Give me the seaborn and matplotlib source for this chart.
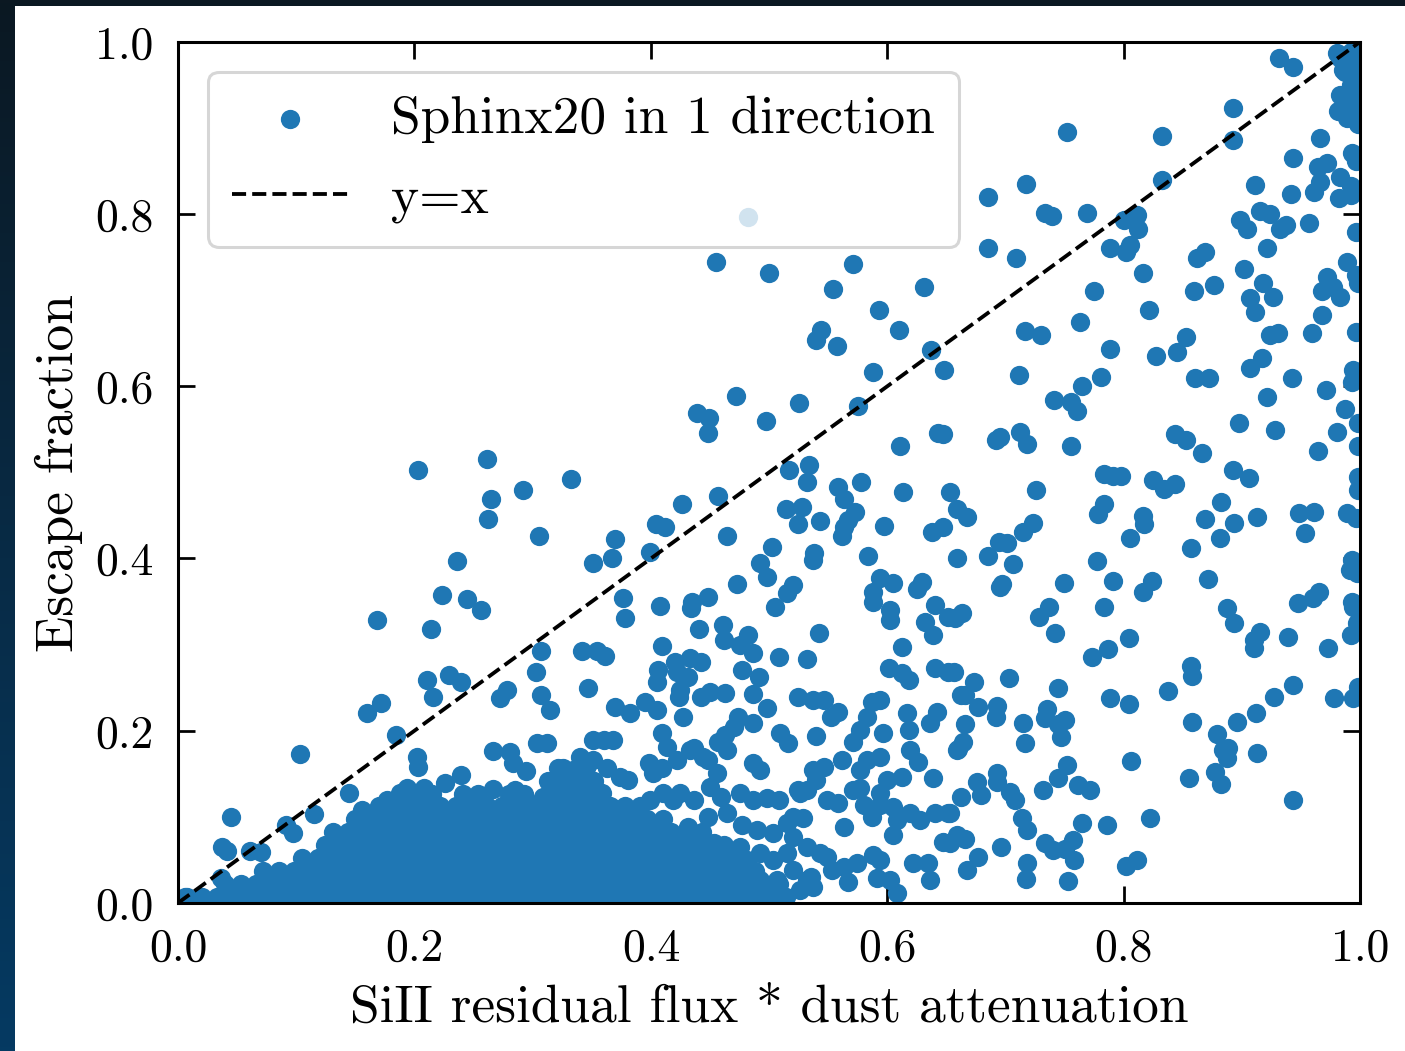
import matplotlib
matplotlib.use("Agg")
import matplotlib.pyplot as plt
import seaborn as sns
import numpy as np
import pandas as pd
from matplotlib.patches import Rectangle
from matplotlib.colors import LinearSegmentedColormap

# ---------------- data ----------------
# points above / near the diagonal on the left side
upper_left = [
    (0.203, 0.503), (0.261, 0.516), (0.265, 0.469), (0.262, 0.446), (0.292, 0.479), (0.305, 0.426),
    (0.236, 0.397), (0.332, 0.492), (0.223, 0.358), (0.244, 0.353), (0.256, 0.340), (0.168, 0.328),
    (0.214, 0.318), (0.307, 0.293), (0.303, 0.268), (0.211, 0.259), (0.229, 0.265), (0.239, 0.257),
    (0.216, 0.239), (0.272, 0.238), (0.278, 0.247), (0.307, 0.242), (0.315, 0.224), (0.160, 0.220),
    (0.172, 0.232), (0.184, 0.195), (0.103, 0.173), (0.202, 0.170), (0.203, 0.158), (0.266, 0.177),
    (0.281, 0.175), (0.304, 0.186), (0.312, 0.186), (0.321, 0.157), (0.283, 0.163), (0.294, 0.153),
    (0.045, 0.100), (0.037, 0.065), (0.041, 0.060), (0.061, 0.060), (0.070, 0.059), (0.036, 0.029),
    (0.091, 0.091), (0.097, 0.081), (0.115, 0.103), (0.145, 0.128), (0.226, 0.139), (0.239, 0.149),
    (0.208, 0.134), (0.194, 0.134), (0.177, 0.120), (0.188, 0.128), (0.156, 0.108), (0.266, 0.132),
    (0.285, 0.131), (0.295, 0.116), (0.309, 0.123), (0.006, 0.007), (0.151, 0.093), (0.162, 0.081),
]

# middle of the plot, high escape fractions
middle_high = [
    (0.455, 0.744), (0.500, 0.732), (0.571, 0.742), (0.554, 0.713), (0.631, 0.715), (0.593, 0.689),
    (0.610, 0.665), (0.544, 0.665), (0.540, 0.654), (0.557, 0.647), (0.637, 0.642), (0.648, 0.619),
    (0.588, 0.617), (0.575, 0.577), (0.472, 0.589), (0.525, 0.581), (0.439, 0.569), (0.449, 0.563),
    (0.448, 0.546), (0.497, 0.560), (0.643, 0.546), (0.647, 0.545), (0.611, 0.530), (0.517, 0.503),
    (0.534, 0.508), (0.532, 0.489), (0.558, 0.483), (0.563, 0.469), (0.578, 0.489), (0.613, 0.477),
    (0.653, 0.477), (0.659, 0.458), (0.514, 0.458), (0.528, 0.460), (0.524, 0.440), (0.543, 0.444),
    (0.573, 0.454), (0.567, 0.445), (0.563, 0.437), (0.562, 0.426), (0.597, 0.438), (0.638, 0.431),
    (0.647, 0.437), (0.426, 0.463), (0.457, 0.472), (0.404, 0.440), (0.412, 0.437), (0.370, 0.423),
    (0.351, 0.395), (0.367, 0.400), (0.399, 0.408), (0.464, 0.426), (0.502, 0.413), (0.538, 0.406),
    (0.537, 0.398), (0.492, 0.395), (0.584, 0.403), (0.659, 0.401), (0.482, 0.797),
]

# right-hand side of the plot
right_side = [
    (0.931, 0.981), (0.943, 0.971), (0.892, 0.923), (0.892, 0.886), (0.752, 0.895), (0.832, 0.890),
    (0.832, 0.840), (0.717, 0.835), (0.685, 0.820), (0.733, 0.801), (0.739, 0.798), (0.769, 0.801),
    (0.800, 0.793), (0.811, 0.799), (0.812, 0.783), (0.685, 0.761), (0.709, 0.749), (0.788, 0.761),
    (0.805, 0.764), (0.802, 0.756), (0.869, 0.756), (0.862, 0.749), (0.921, 0.761), (0.966, 0.888),
    (0.943, 0.865), (0.993, 0.871), (0.996, 0.861), (0.964, 0.854), (0.972, 0.859), (0.966, 0.837),
    (0.961, 0.825), (0.983, 0.843), (0.992, 0.832), (0.982, 0.818), (0.992, 0.822), (0.911, 0.834),
    (0.941, 0.823), (0.898, 0.793), (0.904, 0.782), (0.915, 0.803), (0.924, 0.800), (0.937, 0.787),
    (0.932, 0.783), (0.957, 0.790), (0.996, 0.779),
    (0.902, 0.736), (0.859, 0.710), (0.876, 0.717), (0.918, 0.720), (0.926, 0.704), (0.907, 0.703),
    (0.911, 0.686), (0.989, 0.744), (0.996, 0.729), (0.998, 0.720), (0.972, 0.727), (0.968, 0.710),
    (0.977, 0.715), (0.983, 0.704), (0.968, 0.683), (0.959, 0.662), (0.996, 0.663), (0.924, 0.660),
    (0.930, 0.662), (0.853, 0.657), (0.845, 0.640), (0.917, 0.633), (0.907, 0.621), (0.860, 0.609),
    (0.872, 0.610), (0.942, 0.609), (0.994, 0.619), (0.993, 0.605), (0.971, 0.596), (0.921, 0.587),
    (0.987, 0.573), (0.897, 0.557), (0.928, 0.549), (0.980, 0.547), (0.998, 0.557), (0.998, 0.530),
    (0.843, 0.544), (0.853, 0.538), (0.866, 0.523), (0.964, 0.525), (0.892, 0.503),
    (0.816, 0.732), (0.775, 0.710), (0.821, 0.689), (0.716, 0.664), (0.730, 0.659), (0.763, 0.674),
    (0.788, 0.643), (0.827, 0.635), (0.711, 0.613), (0.781, 0.611), (0.765, 0.600), (0.741, 0.584),
    (0.755, 0.582), (0.760, 0.571), (0.692, 0.538), (0.695, 0.541), (0.712, 0.547), (0.718, 0.533),
    (0.755, 0.531),
    (0.783, 0.498), (0.791, 0.496), (0.798, 0.496), (0.825, 0.491), (0.834, 0.481), (0.843, 0.487),
    (0.906, 0.494), (0.998, 0.495), (0.998, 0.480), (0.726, 0.479), (0.667, 0.448), (0.783, 0.463),
    (0.778, 0.452), (0.816, 0.449), (0.817, 0.440), (0.805, 0.424), (0.857, 0.412), (0.882, 0.465),
    (0.869, 0.446), (0.881, 0.424), (0.893, 0.441), (0.913, 0.448), (0.948, 0.453), (0.961, 0.454),
    (0.953, 0.430), (0.989, 0.453), (0.996, 0.447), (0.715, 0.431), (0.723, 0.441), (0.694, 0.419),
    (0.701, 0.418), (0.685, 0.403), (0.706, 0.393), (0.777, 0.397),
    (0.695, 0.367), (0.697, 0.370), (0.749, 0.372), (0.791, 0.374), (0.816, 0.361), (0.824, 0.374),
    (0.871, 0.376), (0.947, 0.348), (0.960, 0.354), (0.965, 0.361), (0.657, 0.331), (0.663, 0.337),
    (0.728, 0.332), (0.737, 0.344), (0.742, 0.314), (0.783, 0.344), (0.887, 0.343), (0.893, 0.325),
    (0.915, 0.315), (0.910, 0.305), (0.910, 0.296), (0.939, 0.309), (0.973, 0.296), (0.993, 0.398),
    (0.991, 0.387), (0.997, 0.383), (0.993, 0.350), (0.994, 0.344), (0.997, 0.325), (0.992, 0.311),
    (0.773, 0.286), (0.787, 0.295), (0.804, 0.308), (0.656, 0.268), (0.673, 0.257), (0.666, 0.242),
    (0.677, 0.228), (0.703, 0.261), (0.693, 0.229), (0.692, 0.216), (0.666, 0.208), (0.715, 0.209),
    (0.716, 0.186), (0.744, 0.250), (0.735, 0.225), (0.733, 0.215), (0.750, 0.213), (0.747, 0.193),
    (0.744, 0.208), (0.664, 0.187), (0.660, 0.179), (0.788, 0.238), (0.804, 0.231), (0.837, 0.246),
    (0.857, 0.275), (0.858, 0.264), (0.858, 0.210), (0.879, 0.196), (0.896, 0.210), (0.912, 0.220),
    (0.927, 0.239), (0.943, 0.253), (0.978, 0.238), (0.994, 0.238), (0.998, 0.251),
    (0.806, 0.165), (0.884, 0.178), (0.888, 0.180), (0.887, 0.168), (0.913, 0.174), (0.855, 0.145),
    (0.877, 0.152), (0.882, 0.138), (0.943, 0.120), (0.676, 0.141), (0.679, 0.125), (0.693, 0.151),
    (0.693, 0.141), (0.662, 0.123), (0.653, 0.105), (0.704, 0.129), (0.708, 0.120), (0.714, 0.099),
    (0.718, 0.085), (0.732, 0.131), (0.744, 0.145), (0.752, 0.160), (0.761, 0.137), (0.771, 0.131),
    (0.765, 0.093), (0.786, 0.091), (0.822, 0.099), (0.666, 0.074), (0.653, 0.070), (0.696, 0.065),
    (0.733, 0.070), (0.740, 0.062), (0.750, 0.063), (0.757, 0.073), (0.758, 0.050), (0.677, 0.053),
    (0.667, 0.038), (0.718, 0.046), (0.717, 0.028), (0.753, 0.026), (0.802, 0.043), (0.811, 0.050),
]

# pile of points in the top-right corner
corner_pile = [
    (0.998, 0.996), (0.992, 0.988), (0.983, 0.981), (0.996, 0.977), (0.987, 0.965), (0.998, 0.958),
    (0.992, 0.950), (0.983, 0.938), (0.996, 0.935), (0.993, 0.923), (0.981, 0.919), (0.989, 0.912),
    (0.998, 0.904), (0.980, 0.987), (0.985, 0.967), (0.993, 0.941), (0.990, 0.915),
]

# middle band, low to moderate escape fractions
middle_low = [
    (0.376, 0.354), (0.378, 0.331), (0.408, 0.345), (0.435, 0.350), (0.434, 0.343), (0.448, 0.355),
    (0.473, 0.370), (0.498, 0.379), (0.520, 0.369), (0.515, 0.360), (0.505, 0.344), (0.594, 0.377),
    (0.605, 0.372), (0.588, 0.361), (0.588, 0.350), (0.602, 0.340), (0.602, 0.329), (0.629, 0.373),
    (0.625, 0.364), (0.640, 0.346), (0.651, 0.332), (0.632, 0.326), (0.639, 0.311), (0.441, 0.318),
    (0.461, 0.323), (0.462, 0.305), (0.482, 0.311), (0.475, 0.300), (0.486, 0.290), (0.409, 0.298),
    (0.342, 0.292), (0.354, 0.292), (0.361, 0.287), (0.508, 0.286), (0.532, 0.283), (0.542, 0.314),
    (0.612, 0.297), (0.601, 0.273), (0.612, 0.267), (0.618, 0.259), (0.640, 0.273), (0.651, 0.268),
    (0.420, 0.280), (0.433, 0.285), (0.442, 0.280), (0.406, 0.271), (0.405, 0.256), (0.422, 0.268),
    (0.431, 0.262), (0.477, 0.271), (0.491, 0.262), (0.347, 0.250), (0.425, 0.247), (0.424, 0.239),
    (0.442, 0.239), (0.450, 0.245), (0.463, 0.244), (0.486, 0.243), (0.524, 0.239), (0.537, 0.236),
    (0.546, 0.236), (0.552, 0.216), (0.558, 0.222), (0.370, 0.228), (0.382, 0.220), (0.395, 0.233),
    (0.405, 0.224), (0.427, 0.216), (0.474, 0.216), (0.470, 0.204), (0.486, 0.209), (0.498, 0.226),
    (0.509, 0.197), (0.516, 0.186), (0.540, 0.194), (0.587, 0.233), (0.594, 0.236), (0.583, 0.216),
    (0.617, 0.221), (0.618, 0.201), (0.642, 0.222), (0.636, 0.209), (0.662, 0.242),
    (0.351, 0.189), (0.360, 0.189), (0.368, 0.189), (0.409, 0.197), (0.414, 0.181), (0.436, 0.180),
    (0.444, 0.170), (0.463, 0.195), (0.457, 0.187), (0.464, 0.178), (0.571, 0.187), (0.577, 0.201),
    (0.596, 0.197), (0.594, 0.170), (0.583, 0.166), (0.577, 0.154), (0.619, 0.178), (0.626, 0.164),
    (0.659, 0.178), (0.562, 0.166), (0.639, 0.145), (0.600, 0.143), (0.612, 0.146), (0.594, 0.128),
    (0.486, 0.163), (0.492, 0.154), (0.537, 0.154), (0.546, 0.158), (0.540, 0.143), (0.532, 0.131),
    (0.524, 0.131), (0.571, 0.131), (0.577, 0.134), (0.580, 0.114), (0.587, 0.100), (0.594, 0.114),
    (0.605, 0.111), (0.608, 0.096), (0.619, 0.105), (0.628, 0.096), (0.640, 0.105), (0.651, 0.105),
    (0.563, 0.088), (0.605, 0.079), (0.659, 0.079), (0.647, 0.071), (0.515, 0.093), (0.529, 0.099),
    (0.549, 0.120), (0.558, 0.116),
    (0.634, 0.046), (0.622, 0.046), (0.636, 0.027), (0.574, 0.046), (0.588, 0.056), (0.594, 0.050),
    (0.591, 0.029), (0.602, 0.027), (0.608, 0.012), (0.549, 0.053), (0.553, 0.038), (0.563, 0.042),
    (0.567, 0.024), (0.535, 0.030), (0.537, 0.019), (0.526, 0.015),
]

# upper edge of the dense cloud
dense_edge = [
    (0.340, 0.170), (0.351, 0.166), (0.363, 0.157), (0.334, 0.154), (0.381, 0.143), (0.374, 0.146),
    (0.332, 0.128), (0.346, 0.120), (0.359, 0.128), (0.368, 0.110), (0.354, 0.100), (0.398, 0.163),
    (0.402, 0.151), (0.409, 0.157), (0.422, 0.166), (0.433, 0.178), (0.448, 0.166), (0.456, 0.151),
    (0.399, 0.120), (0.410, 0.128), (0.419, 0.120), (0.425, 0.128), (0.436, 0.120), (0.450, 0.135),
    (0.459, 0.123), (0.464, 0.105), (0.448, 0.100), (0.475, 0.128), (0.486, 0.120), (0.498, 0.122),
    (0.508, 0.120), (0.477, 0.091), (0.490, 0.085), (0.503, 0.081), (0.520, 0.077), (0.532, 0.065),
    (0.543, 0.058), (0.526, 0.128), (0.520, 0.100), (0.431, 0.088), (0.439, 0.077), (0.453, 0.070),
    (0.464, 0.062), (0.475, 0.065), (0.481, 0.050), (0.492, 0.058), (0.503, 0.050), (0.515, 0.058),
    (0.520, 0.038), (0.507, 0.027), (0.492, 0.027), (0.532, 0.027),
]

# dense cloud at low escape fraction: one list of flux values per escape-fraction level
core_levels = [0.007, 0.022, 0.037, 0.052, 0.067, 0.082, 0.097, 0.112, 0.127, 0.142, 0.157]
core_r1 = [0.008, 0.020, 0.033, 0.046, 0.059, 0.072, 0.085, 0.098, 0.111, 0.124, 0.137, 0.150, 0.163,
           0.176, 0.189, 0.202, 0.215, 0.228, 0.241, 0.254, 0.267, 0.280, 0.293, 0.306, 0.319, 0.332,
           0.345, 0.358, 0.371, 0.384, 0.397, 0.410, 0.423, 0.436, 0.449, 0.462, 0.475, 0.488, 0.501, 0.514]
core_r2 = [0.040, 0.053, 0.066, 0.079, 0.092, 0.105, 0.118, 0.131, 0.144, 0.157, 0.170, 0.183, 0.196,
           0.209, 0.222, 0.235, 0.248, 0.261, 0.274, 0.287, 0.300, 0.313, 0.326, 0.339, 0.352, 0.365,
           0.378, 0.391, 0.404, 0.417, 0.430, 0.443, 0.456, 0.469, 0.482, 0.495, 0.508]
core_r3 = [0.072, 0.085, 0.098, 0.111, 0.124, 0.137, 0.150, 0.163, 0.176, 0.189, 0.202, 0.215, 0.228,
           0.241, 0.254, 0.267, 0.280, 0.293, 0.306, 0.319, 0.332, 0.345, 0.358, 0.371, 0.384, 0.397,
           0.410, 0.423, 0.436, 0.449, 0.462, 0.475, 0.488]
core_r4 = [0.105, 0.118, 0.131, 0.144, 0.157, 0.170, 0.183, 0.196, 0.209, 0.222, 0.235, 0.248, 0.261,
           0.274, 0.287, 0.300, 0.313, 0.326, 0.339, 0.352, 0.365, 0.378, 0.391, 0.404, 0.417, 0.430,
           0.443, 0.456, 0.469]
core_r5 = [0.124, 0.137, 0.150, 0.163, 0.176, 0.189, 0.202, 0.215, 0.228, 0.241, 0.254, 0.267, 0.280,
           0.293, 0.306, 0.319, 0.332, 0.345, 0.358, 0.371, 0.384, 0.397, 0.410, 0.423, 0.436, 0.449, 0.462]
core_r6 = [0.131, 0.144, 0.157, 0.170, 0.183, 0.196, 0.209, 0.222, 0.235, 0.248, 0.261, 0.274, 0.287,
           0.300, 0.313, 0.326, 0.339, 0.352, 0.365, 0.378, 0.391, 0.404, 0.417, 0.430, 0.443]
core_r7 = [0.150, 0.163, 0.176, 0.189, 0.202, 0.215, 0.228, 0.241, 0.254, 0.267, 0.280, 0.293, 0.306,
           0.319, 0.332, 0.345, 0.358, 0.371, 0.384, 0.397, 0.410]
core_r8 = [0.170, 0.183, 0.196, 0.209, 0.222, 0.235, 0.248, 0.261, 0.274, 0.287, 0.300, 0.313, 0.326,
           0.339, 0.352, 0.365, 0.378, 0.391]
core_r9 = [0.202, 0.215, 0.241, 0.254, 0.280, 0.293, 0.319, 0.332, 0.345, 0.358]
core_r10 = [0.313, 0.326, 0.339, 0.352]
core_r11 = [0.326, 0.345]
core_rows = [core_r1, core_r2, core_r3, core_r4, core_r5, core_r6, core_r7, core_r8, core_r9,
             core_r10, core_r11]

xticks = [0.0, 0.2, 0.4, 0.6, 0.8, 1.0]
yticks = [0.0, 0.2, 0.4, 0.6, 0.8, 1.0]
tick_labels = ["0.0", "0.2", "0.4", "0.6", "0.8", "1.0"]
identity = [0.0, 1.0]

# ---------------- assemble ----------------
pts = upper_left + middle_high + right_side + corner_pile + middle_low + dense_edge
for lvl, row in zip(core_levels, core_rows):
    pts = pts + [(xv, lvl) for xv in row]
df = pd.DataFrame(pts, columns=["flux", "fesc"])

plt.rcParams.update({
    "font.family": "cmr10",
    "mathtext.fontset": "cm",
    "axes.formatter.use_mathtext": True,
    "axes.unicode_minus": False,
})

W, H, DPI = 1405, 1051, 219.5
fig = plt.figure(figsize=((W + 0.3) / DPI, (H + 0.3) / DPI), dpi=DPI)

# dark presentation background with white card
bg = fig.add_axes([0, 0, 1, 1], zorder=-10)
grad = np.linspace(0, 1, 256).reshape(-1, 1)
cmap = LinearSegmentedColormap.from_list("bg", ["#0b1822", "#082a44", "#053a62"])
bg.imshow(grad, aspect="auto", cmap=cmap, extent=[0, 1, 0, 1], origin="upper")
bg.add_patch(Rectangle((15 / W, 0), 1, 1 - 6 / H, transform=bg.transAxes,
                       facecolor="white", edgecolor="none", zorder=5))
bg.set_xlim(0, 1)
bg.set_ylim(0, 1)
bg.axis("off")

ax = fig.add_axes([178 / W, 1 - 903 / H, (1360 - 178) / W, (903 - 42) / H])
ax.set_facecolor("white")

sns.scatterplot(data=df, x="flux", y="fesc", ax=ax, color="#1f77b4", s=40,
                linewidth=0, label="Sphinx20 in 1 direction", zorder=2)
ax.plot(identity, identity, ls="--", color="black", lw=1.25, label="y=x", zorder=3)

ax.set_xlim(0, 1)
ax.set_ylim(0, 1)
ax.set_xticks(xticks)
ax.set_xticklabels(tick_labels)
ax.set_yticks(yticks)
ax.set_yticklabels(tick_labels)
ax.tick_params(direction="in", length=5.5, width=0.9, top=True, right=True,
               labelsize=15, pad=8, color="black", labelcolor="black")
for sp in ax.spines.values():
    sp.set_linewidth(1.0)
    sp.set_color("black")

ax.set_xlabel("SiII residual flux * dust attenuation", fontsize=17.5, labelpad=5)
ax.set_ylabel("Escape fraction", fontsize=17.5, labelpad=4)

leg = ax.legend(loc="upper left", fontsize=17.5, frameon=True, fancybox=True,
                framealpha=0.8, edgecolor="0.8", handlelength=2.17, handletextpad=0.82,
                borderaxespad=0.56, borderpad=0.45, labelspacing=0.6)

fig.savefig("out.png", dpi=DPI)
